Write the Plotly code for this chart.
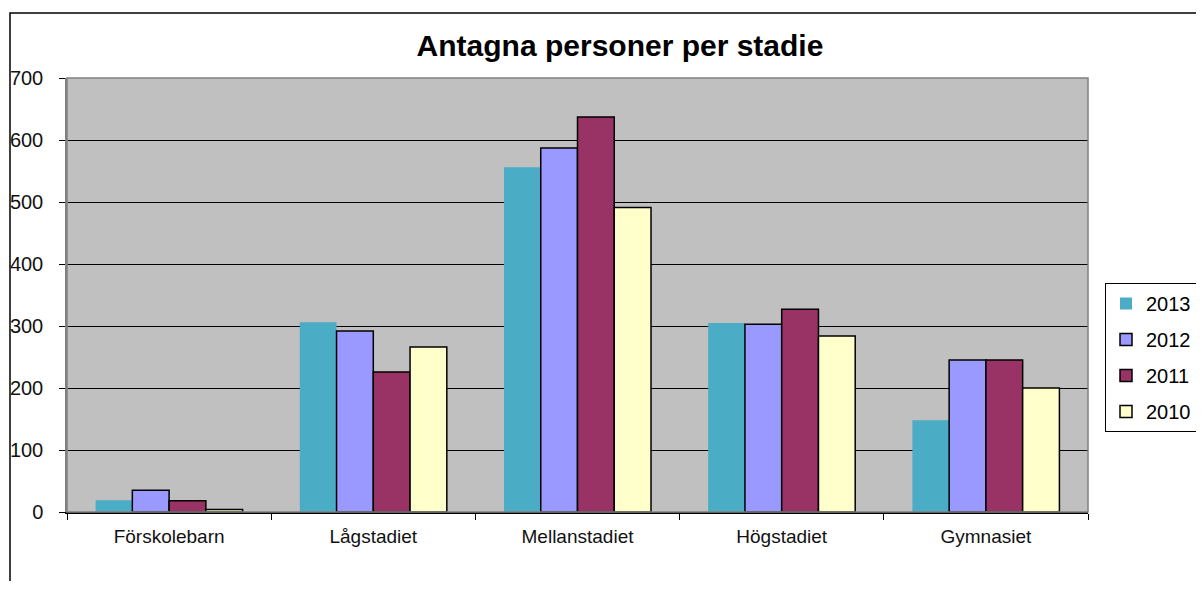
import plotly.graph_objects as go

categories = ["Förskolebarn", "Lågstadiet", "Mellanstadiet", "Högstadiet", "Gymnasiet"]
years = ["2013", "2012", "2011", "2010"]
values_2013 = [19, 306, 556, 305, 148]
values_2012 = [35, 292, 587, 303, 245]
values_2011 = [18, 226, 637, 327, 245]
values_2010 = [4, 266, 491, 284, 200]
colors = ["#4BACC6", "#9999FF", "#993366", "#FFFFCC"]
series = [values_2013, values_2012, values_2011, values_2010]

fig = go.Figure()
for i, (yr, vals, col) in enumerate(zip(years, series, colors)):
    fig.add_trace(go.Bar(
        name=yr, x=categories, y=vals,
        marker=dict(color=col, line=dict(color="black" if i > 0 else col, width=0 if i == 0 else 1.5)),
        legendgroup=yr,
    ))

OFF = 8  # page body margin
W, H = 1204 - 2 * OFF, 589 - 2 * OFF
L, T = 67 - OFF, 78 - OFF
pw, ph = 1021, 434
R, B = W - L - pw, H - T - ph

def px(x):
    return (x - OFF - L) / pw

def py(y):
    return (H - B - (y - OFF)) / ph

fig.update_layout(
    width=W, height=H,
    margin=dict(l=L, r=R, t=T, b=B, autoexpand=False),
    paper_bgcolor="white",
    plot_bgcolor="#C0C0C0",
    barmode="group",
    bargap=0.28,
    bargroupgap=0,
    font=dict(family="Arial, Liberation Sans", size=19, color="black"),
    title=dict(text="<b>Antagna personer per stadie</b>", x=px(620), xref="paper", xanchor="center",
               y=1 - (45 - OFF) / H, yanchor="middle", font=dict(size=30, color="black")),
    showlegend=True,
    legend=dict(x=px(1105), y=py(283), xanchor="left", yanchor="top",
                bordercolor="black", borderwidth=1, bgcolor="white",
                font=dict(size=20), traceorder="grouped", tracegroupgap=7,
                itemwidth=30),
    shapes=[
        dict(type="rect", xref="paper", yref="paper", x0=px(10), x1=px(1215), y0=py(600), y1=py(13),
             line=dict(color="black", width=1.5), fillcolor="rgba(0,0,0,0)", layer="below"),
        dict(type="rect", xref="paper", yref="paper", x0=0, x1=1, y0=0, y1=1,
             line=dict(color="#808080", width=1.5), fillcolor="rgba(0,0,0,0)", layer="above"),
    ],
)
fig.update_xaxes(showgrid=False, showline=True, linecolor="black", linewidth=2,
                 ticks="outside", tickson="boundaries", ticklen=6, tickcolor="black",
                 ticklabelstandoff=6,
                 tickfont=dict(size=19, color="#111111"))
fig.update_yaxes(range=[0, 700], dtick=100, showgrid=True, gridcolor="black", gridwidth=1,
                 showline=True, linecolor="#808080", linewidth=1.5, zeroline=False,
                 ticks="outside", ticklen=6, tickcolor="black", ticklabelstandoff=12,
                 tickfont=dict(size=20, color="#111111"))

fig.write_html("out.html")
